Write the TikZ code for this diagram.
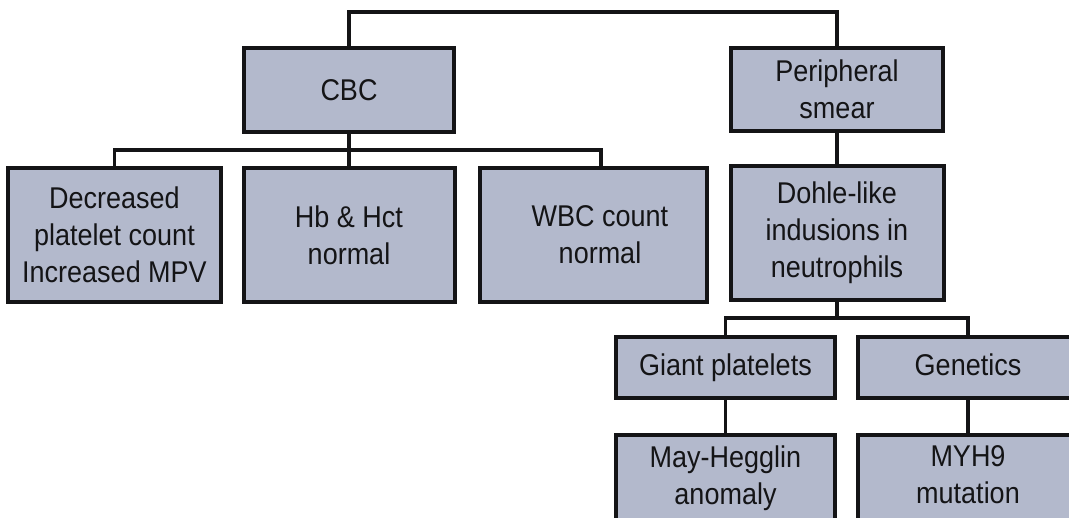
\documentclass[tikz,border=0pt]{standalone}
\usepackage{fontspec}
\setmainfont[FakeStretch=0.9]{Liberation Sans}
\definecolor{boxfill}{RGB}{179,185,204}
\definecolor{ink}{RGB}{20,20,22}
\begin{document}
\begin{tikzpicture}[x=1pt,y=-1pt,
  box/.style={draw=ink, line width=4pt, fill=boxfill, inner sep=0pt,
    align=center, text=ink, font=\fontsize{30}{37}\selectfont},
  link/.style={draw=ink, line width=3.5pt, line cap=rect}]
\useasboundingbox (0,0) rectangle (1069,518);
\fill[white] (0,0) rectangle (1069,518);
\clip (0,0) rectangle (1069,518);

% top row
\node[box, minimum width=210, minimum height=84] (cbc) at (349,90) {CBC};
\node[box, minimum width=212, minimum height=83] (ps) at (837,89.5) {Peripheral\\smear};

% second row
\node[box, minimum width=213, minimum height=134] (dec) at (114.5,235)
  {Decreased\\platelet count\\Increased MPV};
\node[box, minimum width=211, minimum height=134] (hb) at (349,235) {Hb \& Hct\\normal};
\node[box, minimum width=227, minimum height=134] (wbc) at (593,235) {\hspace*{14pt}WBC count\\\hspace*{14pt}normal};
\node[box, minimum width=213, minimum height=134] (dohle) at (837,233)
  {Dohle-like\\indusions in\\neutrophils};

% third and fourth rows
\node[box, minimum width=219, minimum height=61] (giant) at (725.5,367.5) {Giant platelets};
\node[box, minimum width=220, minimum height=61] (gen) at (968,367.5) {Genetics\vphantom{g}};
\node[box, minimum width=219, minimum height=86] (may) at (725.5,478) {May-Hegglin\\anomaly};
\node[box, minimum width=220, minimum height=86] (myh) at (968,478) {MYH9\\mutation\vphantom{y}};

% helper points for the bus lines
\coordinate (topbar) at (0,12);
\coordinate (cbcbar) at (0,150);
\coordinate (wtop) at (601,168);
\coordinate (dohbar) at (0,318);

% connectors
\draw[link] (cbc.north) |- (topbar -| ps.north) -- (ps.north);
\draw[link] (cbc.south) -- (hb.north);
\draw[link] (dec.north) |- (cbcbar -| wtop) -- (wtop);
\draw[link] (ps.south) -- (dohle.north);
\draw[link] (dohle.south) -- (dohbar -| dohle.south);
\draw[link] (giant.north) |- (dohbar -| gen.north) -- (gen.north);
\draw[link] (giant.south) -- (may.north);
\draw[link] (gen.south) -- (myh.north);
\end{tikzpicture}
\end{document}
